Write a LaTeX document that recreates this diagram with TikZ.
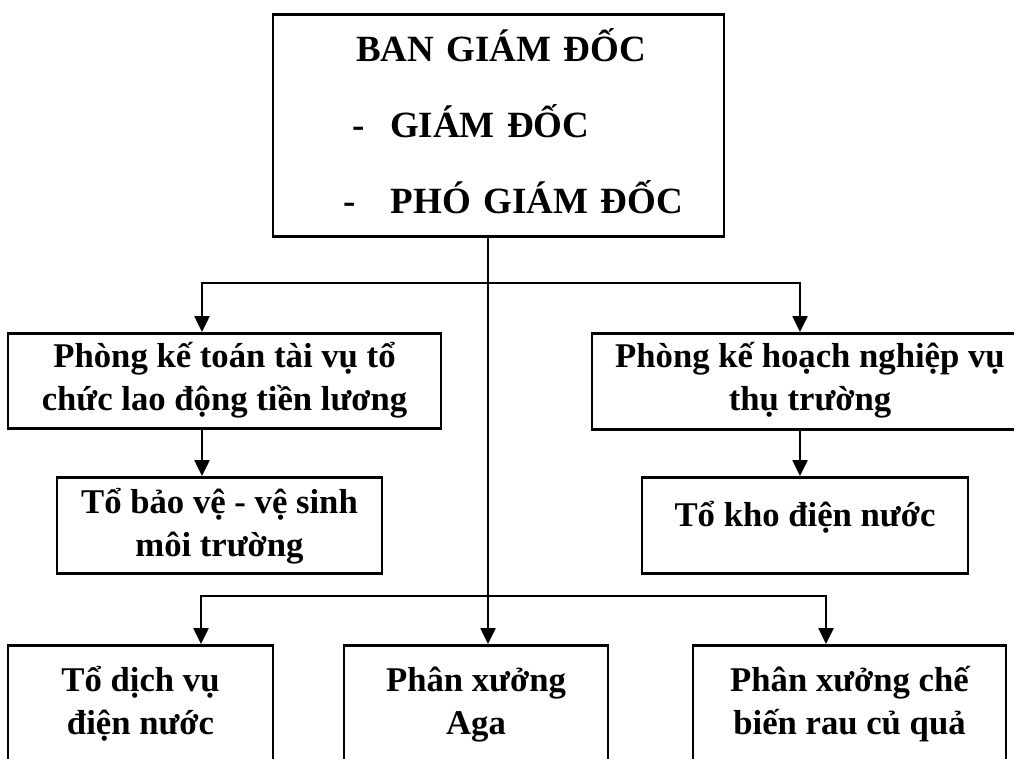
\documentclass[tikz,border=0pt]{standalone}
\usepackage{fontspec}
\setmainfont{Liberation Serif}
\usetikzlibrary{arrows.meta}
\begin{document}
\begin{tikzpicture}[x=1pt,y=-1pt,line width=2.5pt]
				\tikzstyle{box}=[draw=black, rectangle, anchor=north, inner xsep=0pt, inner ysep=0pt, align=center, font=\fontsize{34.7}{43}\selectfont\bfseries]
				\tikzstyle{arr}=[black, -{Triangle[length=16pt,width=15pt]}]
				\useasboundingbox (0,0) rectangle (1014,758);
				\clip (0,0) rectangle (1014,758);
				\node [box, text width=451pt, align=left, text height=47pt, text depth=175pt, font=\fontsize{37}{76}\selectfont\bfseries] (bgd) at (498.5,13) {\hspace*{83pt}BAN GIÁM ĐỐC\\\hspace*{79pt}\makebox[38pt][l]{-}GIÁM ĐỐC\\\hspace*{70pt}\makebox[48pt][l]{-}PHÓ GIÁM ĐỐC};
				\node [box, minimum width=433pt, text height=77pt, text depth=18pt] (ketoan) at (224.5,332) {Phòng kế toán tài vụ tổ\\chức lao động tiền lương};
				\node [box, minimum width=436pt, text height=77pt, text depth=19pt] (kehoach) at (810,332) {Phòng kế hoạch nghiệp vụ\\thụ trường};
				\node [box, minimum width=325pt, text height=79pt, text depth=17pt] (baove) at (219.5,476) {Tổ bảo vệ - vệ sinh\\môi trường};
				\node [box, minimum width=326pt, text height=49pt, text depth=47pt] (kho) at (805,476) {Tổ kho điện nước};
				\node [box, minimum width=265pt, text height=89pt, text depth=33pt] (dichvu) at (140.5,644) {Tổ dịch vụ\\điện nước};
				\node [box, minimum width=264pt, text height=89pt, text depth=33pt] (aga) at (476,644) {Phân xưởng\\Aga};
				\node [box, minimum width=313pt, text height=89pt, text depth=33pt] (chebien) at (849.5,644) {Phân xưởng chế\\biến rau củ quả};
				\coordinate (t1) at (488,283);
				\coordinate (t2) at (488,596);
				\draw [arr] (t1 |- bgd.south) -- (t1 |- aga.north);
				\draw [arr] (t1) -| ([xshift=-22.5pt]ketoan.north);
				\draw [arr] (t1) -| ([xshift=-10pt]kehoach.north);
				\draw [arr] ([xshift=-22.5pt]ketoan.south) -- ([xshift=-22.5pt]ketoan.south |- baove.north);
				\draw [arr] ([xshift=-10pt]kehoach.south) -- ([xshift=-10pt]kehoach.south |- kho.north);
				\draw [arr] (t2) -| ([xshift=60.5pt]dichvu.north);
				\draw [arr] (t2) -| ([xshift=-23.5pt]chebien.north);
			\end{tikzpicture}
\end{document}
